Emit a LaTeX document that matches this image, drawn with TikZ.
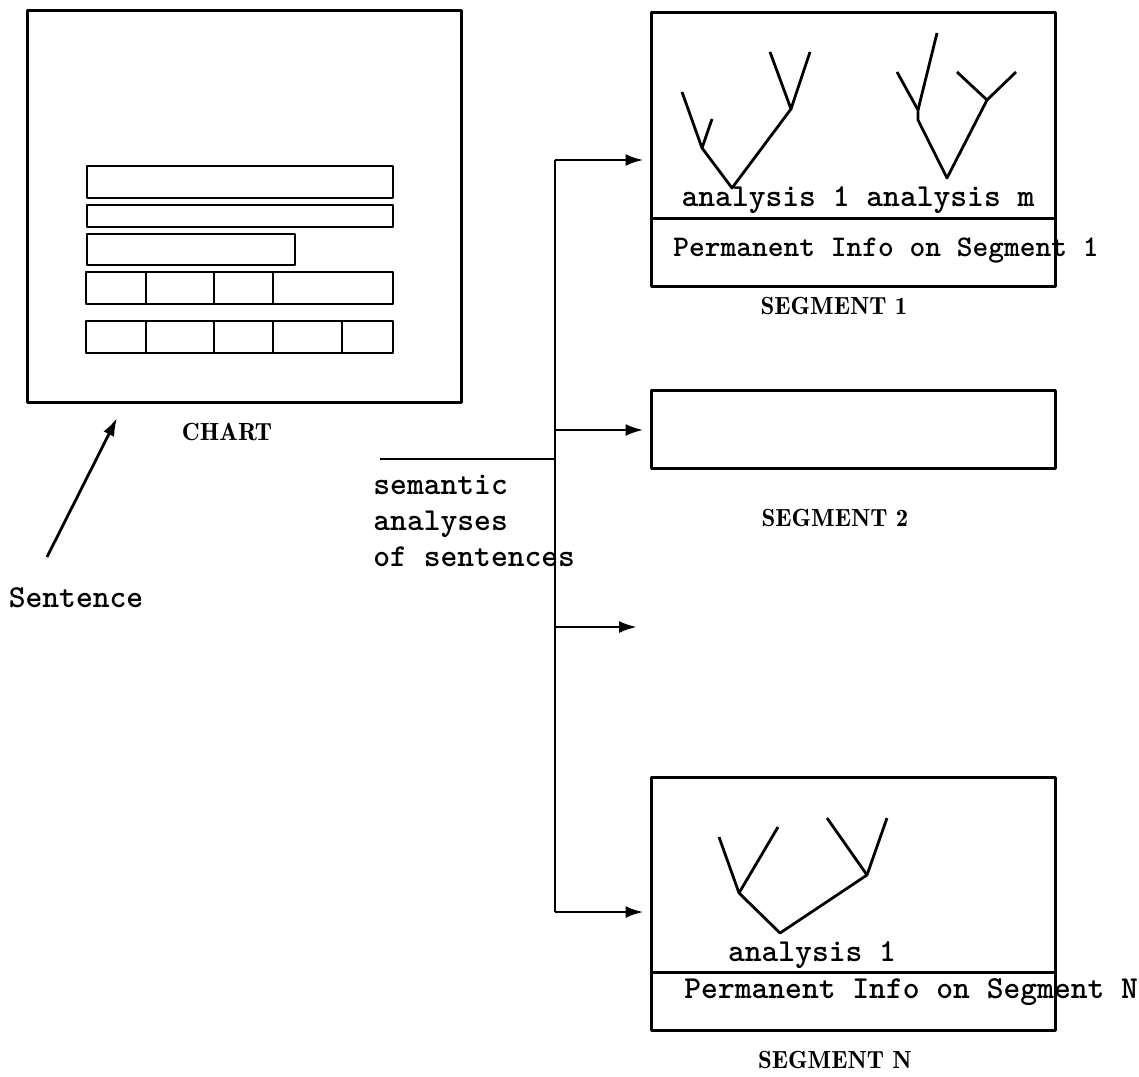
\documentclass[tikz,border=0pt]{standalone}
\usepackage{tikz}
\usetikzlibrary{arrows.meta,positioning}

\begin{document}
\begin{tikzpicture}[x=0.5pt, y=-0.5pt, line width=1.4pt, line join=round,
    every node/.style={font=\fontsize{16}{18}\selectfont\ttfamily\bfseries, inner sep=0pt},
    box/.style={draw, line width=1.5pt, minimum width=202pt},
    caption/.style={font=\fontsize{12.4}{14}\selectfont\rmfamily\fontseries{b}\selectfont},
    feed/.style={-{Latex[length=9pt,width=6pt]}}]
  \useasboundingbox (0,0) rectangle (1139,1076);

  % chart with its rows
  \node[box, minimum width=217pt, minimum height=196pt] (chart) at (244,206) {};
  \draw (87,166) rectangle (393,198);
  \draw (87,205) rectangle (393,227);
  \draw (87,234) rectangle (295,265);
  \draw (86,272) rectangle (393,304);
  \draw (86,321) rectangle (393,353);
  \foreach \x in {146, 214, 273} {
    \draw (\x,272) -- (\x,304);
  }
  \foreach \x in {146, 214, 273, 342} {
    \draw (\x,321) -- (\x,353);
  }
  \node[caption] (chartlbl) at (227,432) {CHART};

  \node (sentence) at (76,598) {Sentence};
  \coordinate (sentin) at (47,557);
  \coordinate (chartin) at (117,418);
  \draw[feed] (sentin) -- (chartin);

  % segments
  \node[box, minimum height=137pt] (seg1) at (853,149) {};
  \node[box, minimum height=39pt] (seg2) at (853,429) {};
  \node[box, minimum height=126.5pt] (segN) at (853,903.5) {};
  \coordinate (div1) at (0,218);
  \coordinate (divN) at (0,972);
  \draw[line width=1.5pt] (seg1.west |- div1) -- (seg1.east |- div1);
  \draw[line width=1.5pt] (segN.west |- divN) -- (segN.east |- divN);

  \node (an1) at (858,200) {analysis 1 analysis m};
  \node[anchor=west, font=\fontsize{15}{18}\selectfont\ttfamily\bfseries] (perm1) at (672,251) {Permanent Info on Segment 1};
  \node[caption] (seg1lbl) at (834,306) {SEGMENT 1};
  \node[caption] (seg2lbl) at (835,518) {SEGMENT 2};
  \node (anN) at (812,955) {analysis 1};
  \node[anchor=west] (permN) at (683,992) {Permanent Info on Segment N};
  \node[caption] (segNlbl) at (835,1060) {SEGMENT N};

  % trees
  \draw (682,92) -- (702,148) -- (732,188) -- (791,109) -- (770,52);
  \draw (791,109) -- (810,52);
  \draw (702,148) -- (712,119);
  \draw (897,72) -- (918,110) -- (918,120) -- (947,178) -- (987,100) -- (957,72);
  \draw (987,100) -- (1016,72);
  \draw (918,110) -- (937,33);
  \draw (719,837) -- (739,893) -- (780,933) -- (867,875) -- (827,818);
  \draw (867,875) -- (887,818);
  \draw (739,893) -- (778,827);

  % bus to the segments
  \node[anchor=north west, align=left] (sem) at (372,474) {semantic\\analyses\\of sentences};
  \coordinate (semin) at (380,459);
  \coordinate (bus) at (555,459);
  \coordinate (b1) at (555,160);
  \coordinate (b2) at (555,430);
  \coordinate (b3) at (555,627);
  \coordinate (bN) at (555,912);
  \coordinate (free) at (637,627);
  \draw (semin) -- (bus);
  \draw (b1) -- (bN);
  \draw[feed, shorten >=3pt] (b1) -- (b1 -| seg1.west);
  \draw[feed, shorten >=3pt] (b2) -- (b2 -| seg2.west);
  \draw[feed] (b3) -- (free);
  \draw[feed, shorten >=3pt] (bN) -- (bN -| segN.west);
\end{tikzpicture}
\end{document}
